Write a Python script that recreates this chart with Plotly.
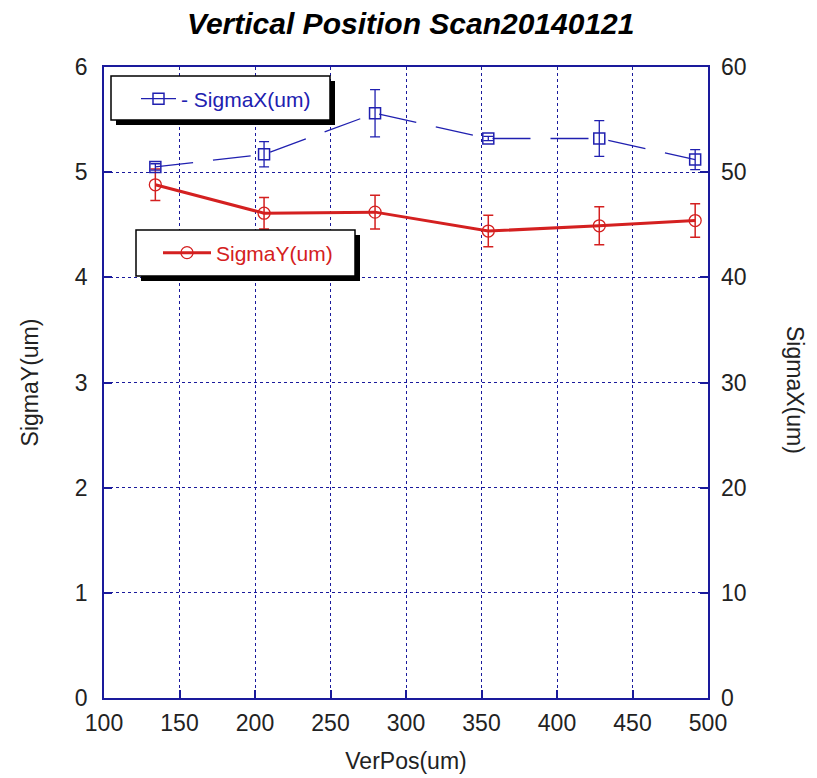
import plotly.graph_objects as go

ver_pos = [134, 206, 279.5, 354.5, 428, 491.5]
sigma_y = [4.88, 4.61, 4.62, 4.44, 4.49, 4.54]
sigma_y_err = [0.15, 0.15, 0.16, 0.15, 0.18, 0.16]
sigma_x = [50.5, 51.7, 55.6, 53.2, 53.2, 51.2]
sigma_x_err = [0.3, 1.2, 2.25, 0.2, 1.7, 0.95]

x_ticks = [100, 150, 200, 250, 300, 350, 400, 450, 500]
y_left_ticks = [0, 1, 2, 3, 4, 5, 6]
y_right_ticks = [0, 10, 20, 30, 40, 50, 60]

NAVY = "#1a1a9c"
BLUE = "#2020b0"
RED = "#d42020"
FONT = "Liberation Sans, Arial, sans-serif"

W, H = 817, 778
ML, MR, MT, MB = 104, 109, 67, 80
PW = W - ML - MR
PH = H - MT - MB

def px(x):
    return (x - ML) / PW

def py(y):
    return (H - MB - y) / PH

fig = go.Figure()

fig.add_trace(go.Scatter(
    x=ver_pos, y=sigma_x, yaxis="y2", name="- SigmaX(um)",
    mode="lines+markers",
    line=dict(color=BLUE, width=1.3, dash="38px,20px"),
    marker=dict(symbol="square-open", size=11, color=BLUE, line=dict(width=1.5)),
    error_y=dict(type="data", array=sigma_x_err, color=BLUE, thickness=1.3, width=5),
    legend="legend",
))

fig.add_trace(go.Scatter(
    x=ver_pos, y=sigma_y, name="SigmaY(um)",
    mode="lines+markers",
    line=dict(color=RED, width=3),
    marker=dict(symbol="circle-open", size=12, color=RED, line=dict(width=1.3)),
    error_y=dict(type="data", array=sigma_y_err, color=RED, thickness=1.5, width=5),
    legend="legend2",
))

shapes = []
# legend boxes with drop shadows (pixel positions converted to paper coords)
for (x0, y0, x1, y1) in [(111, 76, 330, 120), (136, 230, 355, 276)]:
    shapes.append(dict(type="rect", xref="paper", yref="paper", layer="above",
                       x0=px(x0 + 5), x1=px(x1 + 5), y0=py(y1 + 5), y1=py(y0 + 5),
                       fillcolor="black", line=dict(width=0)))
    shapes.append(dict(type="rect", xref="paper", yref="paper", layer="above",
                       x0=px(x0), x1=px(x1), y0=py(y1), y1=py(y0),
                       fillcolor="white", line=dict(color="black", width=1.5)))

axis_common = dict(
    showline=True, linecolor=NAVY, linewidth=1.5, mirror=True,
    ticks="inside", ticklen=8, tickcolor=NAVY, tickwidth=1.5,
    showgrid=True, gridcolor=NAVY, gridwidth=1, griddash="dot",
    zeroline=False, automargin=False,
    tickfont=dict(family=FONT, size=23, color="#222"),
)

fig.update_layout(
    width=W, height=H,
    margin=dict(l=ML, r=MR, t=MT, b=MB, autoexpand=False),
    paper_bgcolor="white", plot_bgcolor="white",
    showlegend=True,
    xaxis=dict(range=[100, 500], tickvals=x_ticks, **axis_common, ticklabelstandoff=4,
               title=dict(text="VerPos(um)", font=dict(family=FONT, size=23, color="#222"), standoff=18)),
    yaxis=dict(range=[0, 6], tickvals=y_left_ticks, **axis_common, ticklabelstandoff=10,
               title=dict(text="SigmaY(um)", font=dict(family=FONT, size=23, color="#222"), standoff=30)),
    yaxis2=dict(range=[0, 60], tickvals=y_right_ticks, overlaying="y", side="right",
                showline=False, ticks="inside", ticklen=8, tickcolor=NAVY, tickwidth=1.5,
                showgrid=False, zeroline=False, ticklabelstandoff=12, automargin=False,
                tickfont=dict(family=FONT, size=23, color="#222")),
    legend=dict(x=px(136), y=py(99), xanchor="left", yanchor="middle",
                bgcolor="rgba(0,0,0,0)", borderwidth=0, itemwidth=35,
                font=dict(family=FONT, size=21, color=BLUE)),
    legend2=dict(x=px(158), y=py(253), xanchor="left", yanchor="middle",
                 bgcolor="rgba(0,0,0,0)", borderwidth=0, itemwidth=48,
                 font=dict(family=FONT, size=21, color=RED)),
    shapes=shapes,
    annotations=[
        dict(text="<b><i>Vertical Position Scan20140121</i></b>", xref="paper", yref="paper",
             x=px(410), y=py(24), xanchor="center", yanchor="middle", showarrow=False,
             font=dict(family=FONT, size=30, color="black")),
        dict(text="SigmaX(um)", xref="paper", yref="paper", x=px(795), y=py(390),
             xanchor="center", yanchor="middle", textangle=90, showarrow=False,
             font=dict(family=FONT, size=23, color="#222")),
    ],
)

fig.write_html("out.html")
